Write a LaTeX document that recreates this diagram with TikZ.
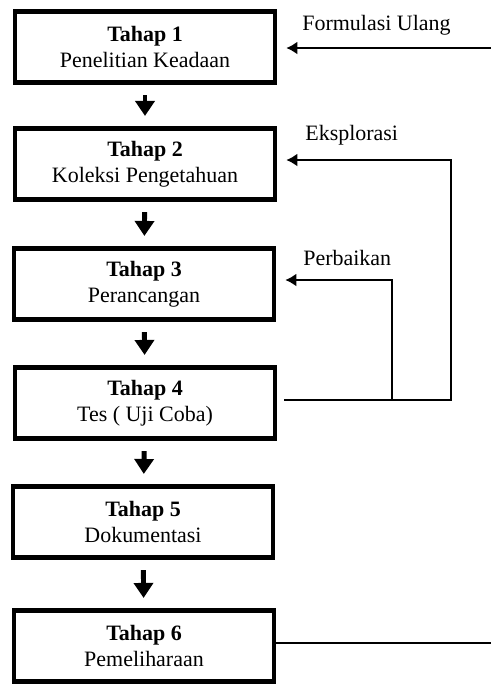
\documentclass[tikz,border=0pt]{standalone}
\usepackage{fontspec}
\setmainfont{Liberation Serif}
\usetikzlibrary{arrows.meta}
\begin{document}
\begin{tikzpicture}[x=0.02cm, y=-0.02cm,
    every node/.style={font=\fontsize{12.5}{15}\selectfont},
    tahap/.style={draw, line width=2.3pt, minimum width=5.22cm, minimum height=1.42cm,
                  align=center, inner sep=0pt},
    turun/.style={line width=2.8pt, -{Triangle[length=3mm, width=3.8mm]},
                  shorten <=6pt, shorten >=6pt},
    balik/.style={line width=1.6pt, -{Latex[length=2.2mm, width=2.6mm]}},
    garis/.style={line width=1.6pt},
    ket/.style={anchor=west, inner sep=0pt}]
    \useasboundingbox (0,0) rectangle (491,698);

    % Tahapan
    \node[tahap] (t1) at (145,47)  {\textbf{Tahap 1}\\Penelitian Keadaan};
    \node[tahap] (t2) at (145,164) {\textbf{Tahap 2}\\Koleksi Pengetahuan};
    \node[tahap] (t3) at (144,284) {\textbf{Tahap 3}\\Perancangan};
    \node[tahap] (t4) at (145,403) {\textbf{Tahap 4}\\Tes ( Uji Coba)};
    \node[tahap] (t5) at (143,522) {\textbf{Tahap 5}\\Dokumentasi};
    \node[tahap] (t6) at (144,646) {\textbf{Tahap 6}\\Pemeliharaan};

    % Panah turun
    \foreach \a/\b in {t1/t2, t2/t3, t3/t4, t4/t5, t5/t6}
      \draw[turun] (\a) -- (\b);

    % Umpan balik
    \coordinate (ulang) at (491,48);
    \coordinate (akhir) at (491,643);
    \coordinate (eks) at (451,400);
    \coordinate (per) at (392,400);
    \coordinate (t4r) at (284,400);

    \draw[balik] (ulang) -- ([xshift=5pt]t1.east |- ulang);
    \draw[balik] (t4r) -- (eks) -- (eks |- 0,160) -- ([xshift=5pt]t2.east |- 0,160);
    \draw[balik] (per) -- (per |- 0,280) -- ([xshift=5pt]t3.east |- 0,280);
    \draw[garis] (t6.east |- akhir) -- (akhir);

    % Keterangan
    \node[ket] (k1) at (302,25)  {Formulasi Ulang};
    \node[ket] (k2) at (305,135) {Eksplorasi};
    \node[ket] (k3) at (303,258) {Perbaikan};
\end{tikzpicture}
\end{document}
